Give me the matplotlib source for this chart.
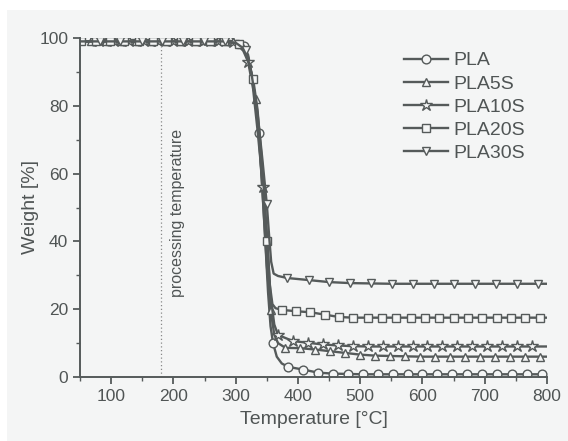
import matplotlib.pyplot as plt
from matplotlib.patches import Rectangle

# TGA curves, weight [%] vs temperature [°C]
pla_t = [50, 73, 97, 121, 145, 169, 193, 217, 241, 265, 289, 300, 313, 320, 326, 332, 337,
         342, 347, 352, 356, 360, 366, 374, 384, 408, 432, 456, 480, 504, 528, 552, 576,
         600, 624, 648, 672, 696, 720, 744, 768, 792, 800]
pla_w = [99.0, 99.0, 99.0, 99.0, 99.0, 99.0, 99.0, 99.0, 99.0, 99.0, 99.0, 98.8, 97.5, 95.0,
         89.0, 81.0, 72.0, 58.0, 42.0, 25.0, 15.0, 10.0, 6.0, 4.0, 3.0, 2.2, 1.3, 1.0, 0.9,
         0.8, 0.8, 0.8, 0.8, 0.8, 0.8, 0.8, 0.8, 0.8, 0.8, 0.8, 0.8, 0.8, 0.8]
pla_mark = [73, 97, 121, 145, 169, 193, 217, 241, 265, 289, 313, 337, 360, 384, 408, 432,
            456, 480, 504, 528, 552, 576, 600, 624, 648, 672, 696, 720, 744, 768, 792]

pla5s_t = [50, 68, 92, 116, 140, 164, 188, 212, 236, 260, 284, 300, 308, 318, 325, 332, 338,
           344, 350, 356, 362, 368, 380, 404, 428, 452, 476, 500, 524, 548, 572, 596, 620,
           644, 668, 692, 716, 740, 764, 788, 800]
pla5s_w = [99.0, 99.0, 99.0, 99.0, 99.0, 99.0, 99.0, 99.0, 99.0, 99.0, 99.0, 98.8, 98.2,
           95.5, 89.5, 82.0, 70.0, 52.0, 33.0, 19.8, 12.5, 10.0, 8.6, 8.5, 8.1, 7.6, 7.1,
           6.6, 6.3, 6.2, 6.1, 6.0, 6.0, 6.0, 6.0, 6.0, 6.0, 6.0, 6.0, 6.0, 6.0]
pla5s_mark = [68, 92, 116, 140, 164, 188, 212, 236, 260, 284, 308, 332, 356, 380, 404, 428,
              452, 476, 500, 524, 548, 572, 596, 620, 644, 668, 692, 716, 740, 764, 788]

pla10s_t = [50, 80, 104, 128, 152, 176, 200, 224, 248, 272, 296, 308, 320, 328, 335, 344,
            350, 356, 362, 368, 392, 416, 440, 464, 488, 512, 536, 560, 584, 608, 632, 656,
            680, 704, 728, 752, 776, 800]
pla10s_w = [99.0, 99.0, 99.0, 99.0, 99.0, 99.0, 99.0, 99.0, 99.0, 99.0, 98.9, 98.0, 93.0,
            85.0, 73.0, 56.0, 41.0, 24.0, 15.5, 12.4, 10.6, 10.1, 9.6, 9.3, 9.1, 9.0, 9.0,
            9.0, 9.0, 9.0, 9.0, 9.0, 9.0, 9.0, 9.0, 9.0, 9.0, 9.0]
pla10s_mark = [80, 104, 128, 152, 176, 200, 224, 248, 272, 296, 320, 344, 368, 392, 416,
               440, 464, 488, 512, 536, 560, 584, 608, 632, 656, 680, 704, 728, 752, 776]

pla20s_t = [50, 52, 75, 98, 121, 144, 167, 190, 213, 236, 259, 282, 305, 316, 328, 335, 342,
            351, 355, 359, 364, 374, 397, 420, 443, 466, 489, 512, 535, 558, 581, 604, 627,
            650, 673, 696, 719, 742, 765, 788, 800]
pla20s_w = [99.0, 99.0, 99.0, 99.0, 99.0, 99.0, 99.0, 99.0, 99.0, 99.0, 99.0, 99.0, 98.3,
            95.5, 88.0, 79.0, 64.0, 40.0, 27.0, 21.5, 20.3, 19.8, 19.4, 19.1, 18.4, 17.7,
            17.5, 17.5, 17.5, 17.5, 17.5, 17.5, 17.5, 17.5, 17.5, 17.5, 17.5, 17.5, 17.5,
            17.5, 17.5]
pla20s_mark = [52, 75, 98, 121, 144, 167, 190, 213, 236, 259, 282, 305, 328, 351, 374, 397,
               420, 443, 466, 489, 512, 535, 558, 581, 604, 627, 650, 673, 696, 719, 742,
               765, 788]

pla30s_t = [50, 82, 115, 149, 182, 216, 249, 283, 300, 316, 325, 335, 343, 350, 354, 357,
            361, 368, 383, 417, 450, 484, 517, 551, 584, 618, 651, 685, 718, 752, 785, 800]
pla30s_w = [99.0, 99.0, 99.0, 99.0, 99.0, 99.0, 99.0, 99.0, 98.6, 96.5, 90.0, 78.0, 64.0,
            51.0, 41.0, 34.0, 30.5, 29.8, 29.2, 28.6, 28.0, 27.7, 27.6, 27.5, 27.5, 27.5,
            27.5, 27.5, 27.5, 27.5, 27.5, 27.5]
pla30s_mark = [82, 115, 149, 182, 216, 249, 283, 316, 350, 383, 417, 450, 484, 517, 551,
               584, 618, 651, 685, 718, 752, 785]

labels = ['PLA', 'PLA5S', 'PLA10S', 'PLA20S', 'PLA30S']
markers = ['o', '^', '*', 's', 'v']
processing_temp = 180

plt.rcParams['font.family'] = ['Liberation Sans', 'DejaVu Sans']
bg = '#f4f5f5'
dark = '#555a5a'
txt = '#505555'

fig = plt.figure(figsize=(5.68, 4.41), dpi=100, facecolor='white')
fig.patches.append(Rectangle((7 / 568, 0), 1, 1 - 10 / 441, transform=fig.transFigure,
                             facecolor=bg, edgecolor='none', zorder=-10))
ax = fig.add_axes([80 / 568, 1 - 377 / 441, 467 / 568, 339 / 441])
ax.set_facecolor(bg)

series = [(pla_t, pla_w, pla_mark), (pla5s_t, pla5s_w, pla5s_mark),
          (pla10s_t, pla10s_w, pla10s_mark), (pla20s_t, pla20s_w, pla20s_mark),
          (pla30s_t, pla30s_w, pla30s_mark)]

for (t, w, mk), lab, m in zip(series, labels, markers):
    idx = [t.index(v) for v in mk]
    ms = 9 if m == '*' else 6.3
    ax.plot(t, w, color=dark, lw=1.7, marker=m, markevery=idx, ms=ms,
            mfc=bg, mec=dark, mew=1.0, label=lab)

# processing temperature
ax.axvline(processing_temp, ymin=0, ymax=0.975, color='#888888', ls=(0, (1, 2)), lw=0.9)
ax.text(processing_temp + 27, 23.5, 'processing temperature', rotation=90,
        ha='center', va='bottom', fontsize=11.5, color=txt)

ax.set_xlim(50, 800)
ax.set_ylim(0, 100)
ax.set_xticks([100, 200, 300, 400, 500, 600, 700, 800])
ax.set_xticks([50, 150, 250, 350, 450, 550, 650, 750], minor=True)
ax.set_yticks([0, 20, 40, 60, 80, 100])
ax.set_yticks([10, 30, 50, 70, 90], minor=True)
for s in ['top', 'right']:
    ax.spines[s].set_visible(False)
for s in ['left', 'bottom']:
    ax.spines[s].set_color(dark)
    ax.spines[s].set_linewidth(1.4)
ax.tick_params(which='major', length=5, width=1.3, color=dark, labelcolor=txt,
               labelsize=12.5)
ax.tick_params(which='minor', length=3, width=1.0, color=dark)

ax.set_xlabel('Temperature [°C]', fontsize=14, color=txt, labelpad=5)
ax.set_ylabel('Weight [%]', fontsize=14, color=txt, labelpad=0)

ax.legend(loc='upper left', bbox_to_anchor=(0.66, 1.005), frameon=False, fontsize=14,
          handlelength=2.3, handletextpad=0.25, labelspacing=0.28, borderpad=0.3,
          labelcolor=txt)

fig.savefig('out.png', dpi=100, facecolor=fig.get_facecolor())
